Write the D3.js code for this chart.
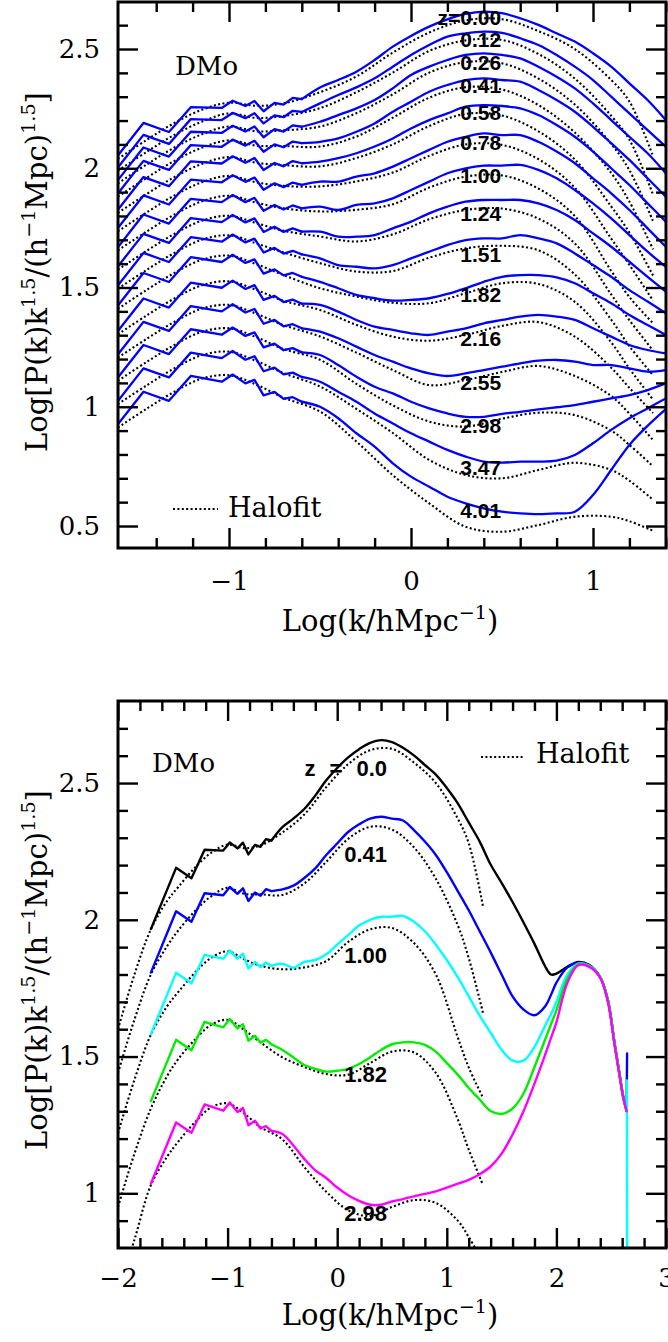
<!DOCTYPE html>
<html><head><meta charset="utf-8">
<script src="https://cdn.jsdelivr.net/npm/d3@7"></script>
<style>
html,body{margin:0;padding:0;background:#fff;}
svg{display:block;}
</style></head><body>
<svg id="c" width="668" height="1342"></svg>
<script>
// ---------------- DATA ----------------
// log k knots (simulation curves); first 13 knots = low-k zig-zag part
const kKnots = [-1.70,-1.47,-1.33,-1.21,-1.04,-0.98,-0.91,-0.86,-0.81,-0.75,-0.70,-0.65,
  -0.6,-0.5,-0.4,-0.3,-0.2,-0.1,0,0.1,0.2,0.3,0.4,0.5,0.6,0.7,0.8,0.9,1.0,1.1,1.2,1.3,1.4];
const pk_z000 = [1.966,2.190,2.152,2.256,2.253,2.283,2.261,2.282,2.239,2.274,2.267,2.295,2.290,2.339,2.370,2.405,2.454,2.510,2.555,2.594,2.624,2.647,2.657,2.650,2.629,2.601,2.566,2.531,2.482,2.426,2.356,2.286,2.202];
const pk_z012 = [1.916,2.140,2.102,2.206,2.202,2.232,2.210,2.231,2.188,2.222,2.214,2.241,2.236,2.272,2.307,2.339,2.377,2.426,2.475,2.517,2.552,2.566,2.573,2.568,2.545,2.517,2.475,2.426,2.370,2.300,2.230,2.160,2.091];
const pk_z026 = [1.863,2.087,2.049,2.153,2.148,2.178,2.154,2.175,2.130,2.164,2.154,2.180,2.174,2.195,2.223,2.251,2.286,2.335,2.391,2.426,2.454,2.475,2.482,2.475,2.461,2.426,2.384,2.335,2.272,2.202,2.132,2.063,1.979];
const pk_z041 = [1.807,2.031,1.993,2.097,2.090,2.120,2.095,2.115,2.069,2.100,2.088,2.112,2.105,2.111,2.125,2.153,2.188,2.237,2.279,2.321,2.349,2.370,2.377,2.370,2.363,2.328,2.286,2.237,2.174,2.105,2.035,1.958,1.881];
const pk_z058 = [1.739,1.963,1.925,2.029,2.020,2.050,2.023,2.043,1.993,2.022,2.008,2.030,2.021,2.028,2.042,2.063,2.091,2.125,2.167,2.202,2.230,2.258,2.265,2.261,2.251,2.223,2.181,2.132,2.070,2.000,1.930,1.853,1.776];
const pk_z078 = [1.662,1.886,1.848,1.952,1.941,1.971,1.943,1.961,1.910,1.937,1.921,1.940,1.930,1.944,1.944,1.965,1.979,2.007,2.042,2.077,2.111,2.132,2.146,2.139,2.139,2.111,2.070,2.021,1.958,1.895,1.825,1.748,1.671];
const pk_z100 = [1.582,1.806,1.768,1.872,1.858,1.888,1.858,1.876,1.822,1.846,1.827,1.844,1.832,1.839,1.825,1.846,1.853,1.874,1.909,1.944,1.979,2.000,2.011,2.011,2.014,1.993,1.958,1.909,1.853,1.790,1.720,1.650,1.587];
const pk_z124 = [1.501,1.725,1.687,1.791,1.774,1.804,1.773,1.790,1.733,1.755,1.733,1.748,1.734,1.734,1.713,1.713,1.720,1.748,1.776,1.811,1.839,1.860,1.867,1.867,1.867,1.853,1.825,1.783,1.727,1.671,1.608,1.545,1.483];
const pk_z151 = [1.421,1.645,1.607,1.711,1.692,1.722,1.689,1.705,1.647,1.666,1.642,1.654,1.639,1.622,1.594,1.587,1.580,1.594,1.622,1.650,1.678,1.699,1.706,1.706,1.720,1.706,1.685,1.643,1.594,1.545,1.489,1.441,1.392];
const pk_z182 = [1.337,1.561,1.523,1.627,1.607,1.637,1.603,1.618,1.558,1.576,1.551,1.561,1.545,1.524,1.497,1.469,1.455,1.445,1.448,1.455,1.473,1.497,1.524,1.545,1.552,1.552,1.543,1.518,1.476,1.434,1.385,1.343,1.301];
const pk_z216 = [1.230,1.454,1.416,1.520,1.499,1.529,1.494,1.510,1.448,1.465,1.439,1.449,1.432,1.427,1.399,1.364,1.336,1.322,1.308,1.301,1.315,1.329,1.350,1.364,1.378,1.385,1.378,1.364,1.329,1.294,1.259,1.238,1.224];
const pk_z255 = [1.132,1.356,1.318,1.422,1.400,1.430,1.395,1.410,1.348,1.364,1.337,1.346,1.329,1.315,1.287,1.252,1.217,1.189,1.161,1.140,1.129,1.140,1.154,1.168,1.182,1.193,1.196,1.189,1.175,1.175,1.161,1.147,1.154];
const pk_z298 = [1.035,1.259,1.221,1.325,1.302,1.332,1.297,1.312,1.249,1.265,1.237,1.246,1.228,1.217,1.175,1.126,1.084,1.056,1.021,0.993,0.972,0.958,0.958,0.970,0.979,0.989,0.998,1.007,1.021,1.035,1.049,1.070,1.098];
const pk_z347 = [0.937,1.161,1.123,1.227,1.204,1.234,1.197,1.212,1.149,1.164,1.136,1.143,1.125,1.105,1.063,1.021,0.972,0.930,0.889,0.854,0.819,0.791,0.770,0.766,0.770,0.770,0.774,0.798,0.847,0.903,0.952,0.993,1.035];
const pk_z401 = [0.839,1.063,1.025,1.129,1.105,1.135,1.098,1.113,1.048,1.062,1.033,1.040,1.021,1.000,0.952,0.889,0.833,0.763,0.707,0.665,0.623,0.595,0.574,0.560,0.553,0.550,0.553,0.560,0.630,0.735,0.840,0.920,0.990];

// Halofit knots (top panel)
const hfKnots = [-1.61,-1.45,-1.3,-1.15,-1.0,-0.85,-0.7,-0.5,-0.3,-0.1,0.1,0.3,0.5,0.7,0.9,1.1,1.2,1.33];
const hf_z000 = [2.040,2.120,2.190,2.245,2.275,2.262,2.272,2.319,2.385,2.485,2.569,2.620,2.625,2.575,2.500,2.370,2.280,2.050];
const hf_z012 = [1.990,2.070,2.140,2.195,2.230,2.211,2.219,2.252,2.319,2.401,2.492,2.536,2.538,2.479,2.376,2.220,2.120,1.889];
const hf_z026 = [1.937,2.017,2.087,2.142,2.175,2.155,2.159,2.175,2.231,2.310,2.401,2.445,2.440,2.376,2.267,2.102,1.992,1.778];
const hf_z041 = [1.881,1.961,2.031,2.086,2.117,2.095,2.093,2.091,2.133,2.212,2.296,2.340,2.330,2.265,2.150,1.980,1.860,1.660];
const hf_z058 = [1.813,1.893,1.963,2.018,2.047,2.023,2.013,2.008,2.043,2.100,2.177,2.228,2.221,2.155,2.037,1.840,1.730,1.550];
const hf_z078 = [1.736,1.816,1.886,1.941,1.968,1.941,1.926,1.924,1.945,1.982,2.052,2.100,2.098,2.038,1.919,1.705,1.595,1.445];
const hf_z100 = [1.656,1.736,1.806,1.861,1.885,1.856,1.832,1.819,1.826,1.849,1.919,1.965,1.970,1.915,1.800,1.570,1.460,1.350];
const hf_z124 = [1.575,1.655,1.725,1.780,1.801,1.770,1.738,1.714,1.693,1.723,1.786,1.825,1.831,1.789,1.685,1.471,1.363,1.236];
const hf_z151 = [1.495,1.575,1.645,1.700,1.719,1.685,1.647,1.602,1.567,1.569,1.625,1.664,1.675,1.656,1.555,1.365,1.254,1.132];
const hf_z182 = [1.411,1.491,1.561,1.616,1.634,1.598,1.552,1.497,1.462,1.436,1.434,1.476,1.518,1.515,1.440,1.270,1.160,1.030];
const hf_z216 = [1.304,1.384,1.454,1.509,1.526,1.490,1.444,1.406,1.343,1.294,1.277,1.301,1.339,1.355,1.294,1.164,1.079,0.974];
const hf_z255 = [1.206,1.286,1.356,1.411,1.427,1.390,1.342,1.295,1.227,1.154,1.091,1.112,1.146,1.171,1.129,1.045,0.971,0.860];
const hf_z298 = [1.109,1.189,1.259,1.314,1.329,1.292,1.242,1.197,1.096,1.006,0.938,0.917,0.950,0.975,0.965,0.900,0.840,0.750];
const hf_z347 = [1.011,1.091,1.161,1.216,1.231,1.192,1.141,1.085,0.991,0.890,0.777,0.714,0.700,0.735,0.765,0.735,0.690,0.610];
const hf_z401 = [0.913,0.993,1.063,1.118,1.132,1.093,1.038,0.980,0.854,0.713,0.595,0.497,0.476,0.504,0.539,0.539,0.520,0.480];

const topLabels = ["z=0.00","0.12","0.26","0.41","0.58","0.78","1.00","1.24","1.51","1.82","2.16","2.55","2.98","3.47","4.01"];
const topLabelLevels = [2.601,2.508,2.412,2.316,2.202,2.077,1.938,1.779,1.607,1.439,1.255,1.070,0.890,0.714,0.534];

// Bottom panel: high-k extension of the z = 0, 0.41, 1.00, 1.82, 2.98 curves
const extKnots = [1.5,1.6,1.7,1.8,1.9,1.95,2.0,2.1,2.2,2.3,2.4,2.47,2.53,2.58,2.61,2.64];
const ext_z000 = [2.135,2.065,1.990,1.912,1.828,1.800,1.803,1.828,1.846,1.835,1.790,1.706,1.550,1.425,1.352,1.304];
const ext_z041 = [1.800,1.720,1.672,1.651,1.685,1.725,1.770,1.826,1.843,1.834,1.790,1.706,1.550,1.425,1.352,1.304];
const ext_z100 = [1.525,1.485,1.485,1.535,1.615,1.655,1.700,1.800,1.840,1.832,1.790,1.706,1.550,1.425,1.352,1.304];
const ext_z182 = [1.290,1.310,1.365,1.462,1.565,1.617,1.669,1.785,1.838,1.830,1.789,1.704,1.548,1.423,1.350,1.302];
const ext_z298 = [1.145,1.215,1.300,1.401,1.510,1.567,1.625,1.770,1.834,1.828,1.788,1.700,1.545,1.420,1.350,1.300];
const spikeX_z041 = [2.645];
const spike_z041 = [1.511];
const spikeX_z100 = [2.643,2.647];
const spike_z100 = [1.413,0.5];

// Bottom panel Halofit
const bhfKnots = [-2.0,-1.85,-1.70,-1.55,-1.45,-1.3,-1.15,-1.0,-0.85,-0.7,-0.5,-0.3,-0.1,0.1,0.3,0.5,0.7,0.9,1.1,1.2,1.33];
const bhf_z000 = [1.600,1.800,1.965,2.070,2.120,2.190,2.245,2.275,2.262,2.272,2.319,2.385,2.485,2.569,2.620,2.625,2.575,2.500,2.370,2.280,2.050];
const bhf_z041 = [1.440,1.635,1.800,1.905,1.961,2.031,2.086,2.117,2.095,2.093,2.091,2.133,2.212,2.296,2.340,2.330,2.265,2.150,1.980,1.860,1.660];
const bhf_z100 = [1.220,1.415,1.580,1.685,1.736,1.806,1.861,1.885,1.856,1.832,1.819,1.826,1.849,1.919,1.965,1.970,1.915,1.800,1.570,1.460,1.350];
const bhf_z182 = [0.950,1.145,1.310,1.430,1.491,1.561,1.616,1.634,1.598,1.552,1.497,1.462,1.436,1.434,1.476,1.518,1.515,1.440,1.270,1.160,1.030];
const bhf_z298 = [0.640,0.830,1.030,1.135,1.189,1.259,1.314,1.329,1.292,1.242,1.197,1.096,1.006,0.938,0.917,0.950,0.975,0.965,0.900,0.840,0.750];

const bottomLabels = ["z = 0.0","0.41","1.00","1.82","2.98"];
const bottomLabelLevels = [2.526,2.211,1.841,1.406,0.897];
const bottomColors = ["#000000","#0000ff","#00ffff","#00ee00","#ff00ff"];

const topXTicks = [-1,0,1];
const topYTicks = [0.5,1,1.5,2,2.5];
const botXTicks = [-2,-1,0,1,2,3];
const botYTicks = [1,1.5,2,2.5];

// ---------------- DRAW ----------------
const svg = d3.select("#c");
const SERIF = "DejaVu Serif";
const LBL = "Liberation Sans";
const ZIG = 13; // number of knots in the zig-zag (linear) part
const zip = (xs, ys) => ys.map((v,i) => [xs[i], v]).filter(d => d[0] !== undefined);
const fmt = d => (d < 0 ? "\u2212" + Math.abs(d) : String(d));

function panel(o) {
  const x = d3.scaleLinear().domain(o.xDom).range([o.L, o.R]);
  const y = d3.scaleLinear().domain(o.yDom).range([o.B, o.T]);
  svg.append("clipPath").attr("id", o.id).append("rect")
    .attr("x", o.L).attr("y", o.T).attr("width", o.R - o.L).attr("height", o.B - o.T);
  const plot = svg.append("g").attr("clip-path", `url(#${o.id})`);
  return {x, y, plot};
}

function rich(textSel, parts, size) {
  let raised = false;
  parts.forEach(p => {
    const ts = textSel.append("tspan").text(p.t);
    if (p.sup) {
      ts.attr("font-size", size * 0.66);
      if (!raised) ts.attr("dy", -size * 0.42);
      raised = true;
    } else {
      if (raised) ts.attr("dy", size * 0.42);
      raised = false;
    }
  });
}

function axes(P, o) {
  const {x, y} = P;
  const style = g => {
    g.select(".domain").remove();
    g.selectAll(".tick line").attr("stroke", "#000").attr("stroke-width", 2.4);
    g.attr("font-family", SERIF).attr("font-size", 26).attr("fill", "#000");
    g.selectAll("text").attr("fill", "#000");
  };
  const add = (tr, ax) => svg.append("g").attr("transform", tr).call(ax).call(style);
  add(`translate(0,${o.B})`, d3.axisBottom(x).tickValues(o.xMaj).tickSizeInner(-20).tickSizeOuter(0).tickPadding(o.xPad).tickFormat(fmt));
  add(`translate(0,${o.B})`, d3.axisBottom(x).tickValues(o.xMin).tickSizeInner(-10).tickSizeOuter(0).tickFormat(""));
  add(`translate(0,${o.T})`, d3.axisTop(x).tickValues(o.xMaj).tickSizeInner(-20).tickSizeOuter(0).tickFormat(""));
  add(`translate(0,${o.T})`, d3.axisTop(x).tickValues(o.xMin).tickSizeInner(-10).tickSizeOuter(0).tickFormat(""));
  add(`translate(${o.L},0)`, d3.axisLeft(y).tickValues(o.yMaj).tickSizeInner(-20).tickSizeOuter(0).tickPadding(18).tickFormat(fmt));
  add(`translate(${o.L},0)`, d3.axisLeft(y).tickValues(o.yMin).tickSizeInner(-10).tickSizeOuter(0).tickFormat(""));
  add(`translate(${o.R},0)`, d3.axisRight(y).tickValues(o.yMaj).tickSizeInner(-20).tickSizeOuter(0).tickFormat(""));
  add(`translate(${o.R},0)`, d3.axisRight(y).tickValues(o.yMin).tickSizeInner(-10).tickSizeOuter(0).tickFormat(""));
  svg.append("rect").attr("x", o.L).attr("y", o.T).attr("width", o.R - o.L).attr("height", o.B - o.T)
    .attr("fill", "none").attr("stroke", "#000").attr("stroke-width", 3);
  const xt = svg.append("text").attr("x", (o.L + o.R) / 2 - 2).attr("y", o.xTitleY)
    .attr("text-anchor", "middle").attr("font-family", SERIF).attr("font-size", 29).attr("fill", "#000");
  rich(xt, [{t:"Log(k/hMpc"},{t:"\u22121",sup:true},{t:")"}], 29);
  const yt = svg.append("text").attr("transform", `translate(47,${o.yTitleY}) rotate(-90)`)
    .attr("text-anchor", "middle").attr("font-family", SERIF).attr("font-size", 29).attr("fill", "#000");
  rich(yt, [{t:"Log[P(k)k"},{t:"1.5",sup:true},{t:"/(h"},{t:"\u22121",sup:true},{t:"Mpc)"},{t:"1.5",sup:true},{t:"]"}], 29);
}

function drawSim(P, pts, color, width, cls) {
  const lin = d3.line().x(d => P.x(d[0])).y(d => P.y(d[1]));
  const smooth = d3.line().x(d => P.x(d[0])).y(d => P.y(d[1])).curve(d3.curveCatmullRom.alpha(0.5));
  const g = P.plot.append("g").attr("class", cls)
    .attr("fill","none").attr("stroke",color).attr("stroke-width",width)
    .attr("stroke-linejoin","round").attr("stroke-linecap","round");
  g.append("path").attr("d", lin(pts.main.slice(0, ZIG)));
  g.append("path").attr("d", smooth(pts.main.slice(ZIG - 1)));
  if (pts.spike) g.append("path").attr("d", lin([pts.main[pts.main.length - 1]].concat(pts.spike)));
}

// ---------- TOP PANEL ----------
const topO = {id:"clipTop", L:118, R:666, T:2, B:548,
  xDom:[-1.6099, 1.4011], yDom:[0.4078, 2.6971],
  xMaj: topXTicks, xMin: d3.range(-7, 8).map(v => v * 0.2).filter(v => Math.abs(v - Math.round(v)) > 1e-6),
  yMaj: topYTicks, yMin: d3.range(5, 27).map(v => v / 10).filter(v => Math.abs(v*2 - Math.round(v*2)) > 1e-6),
  xPad: 24, xTitleY: 631, yTitleY: 272};
const TP = panel(topO);
const topPk = [pk_z000,pk_z012,pk_z026,pk_z041,pk_z058,pk_z078,pk_z100,pk_z124,pk_z151,pk_z182,pk_z216,pk_z255,pk_z298,pk_z347,pk_z401];
const topHf = [hf_z000,hf_z012,hf_z026,hf_z041,hf_z058,hf_z078,hf_z100,hf_z124,hf_z151,hf_z182,hf_z216,hf_z255,hf_z298,hf_z347,hf_z401];
const hfLineT = d3.line().x(d => TP.x(d[0])).y(d => TP.y(d[1])).curve(d3.curveCatmullRom.alpha(0.5));
TP.plot.selectAll("path.hf").data(topHf).join("path").attr("class","hf")
  .attr("d", v => hfLineT(zip(hfKnots, v)))
  .attr("fill","none").attr("stroke","#000").attr("stroke-width",2.1).attr("stroke-dasharray","2,2.4");
topPk.forEach(v => drawSim(TP, {main: zip(kKnots, v)}, "#0000ff", 2.3, "pk"));
axes(TP, topO);
svg.append("g").selectAll("text").data(topLabels).join("text")
  .attr("x", TP.x(0.495)).attr("y", (d,i) => TP.y(topLabelLevels[i]))
  .attr("text-anchor","end").attr("font-family", LBL).attr("font-weight","bold").attr("font-size",21).attr("fill","#000")
  .text(d => d);
svg.append("text").attr("x",175).attr("y",75).attr("font-family",SERIF).attr("font-size",26).attr("fill","#000").text("DMo");
svg.append("line").attr("x1",173).attr("x2",218).attr("y1",509).attr("y2",509)
  .attr("stroke","#000").attr("stroke-width",2.1).attr("stroke-dasharray","2,2.4");
svg.append("text").attr("x",228).attr("y",517).attr("font-family",SERIF).attr("font-size",27).attr("fill","#000").text("Halofit");

// ---------- BOTTOM PANEL ----------
const botO = {id:"clipBot", L:118, R:666, T:701, B:1248,
  xDom:[-2, 3], yDom:[0.8, 2.8],
  xMaj: botXTicks, xMin: d3.range(-9, 15).map(v => v * 0.2).filter(v => Math.abs(v - Math.round(v)) > 1e-6),
  yMaj: botYTicks, yMin: d3.range(9, 28).map(v => v / 10).filter(v => Math.abs(v*2 - Math.round(v*2)) > 1e-6),
  xPad: 21, xTitleY: 1325, yTitleY: 970};
const BP = panel(botO);
const bHf = [bhf_z000,bhf_z041,bhf_z100,bhf_z182,bhf_z298];
const bPk = [
  {main: zip(kKnots, pk_z000).concat(zip(extKnots, ext_z000))},
  {main: zip(kKnots, pk_z041).concat(zip(extKnots, ext_z041)), spike: zip(spikeX_z041, spike_z041)},
  {main: zip(kKnots, pk_z100).concat(zip(extKnots, ext_z100)), spike: zip(spikeX_z100, spike_z100)},
  {main: zip(kKnots, pk_z182).concat(zip(extKnots, ext_z182))},
  {main: zip(kKnots, pk_z298).concat(zip(extKnots, ext_z298))}
];
const hfLineB = d3.line().x(d => BP.x(d[0])).y(d => BP.y(d[1])).curve(d3.curveCatmullRom.alpha(0.5));
BP.plot.selectAll("path.hf").data(bHf).join("path").attr("class","hf")
  .attr("d", v => hfLineB(zip(bhfKnots, v)))
  .attr("fill","none").attr("stroke","#000").attr("stroke-width",2.1).attr("stroke-dasharray","2,2.4");
bPk.forEach((d,i) => drawSim(BP, d, bottomColors[i], 2.4, "pk"));
axes(BP, botO);
svg.append("g").selectAll("text").data(bottomLabels).join("text")
  .attr("x", BP.x(0.455)).attr("y", (d,i) => BP.y(bottomLabelLevels[i]))
  .attr("text-anchor","end").attr("font-family", LBL).attr("font-weight","bold").attr("font-size",22).attr("fill","#000")
  .attr("word-spacing", 8)
  .text(d => d);
svg.append("text").attr("x",152).attr("y",772).attr("font-family",SERIF).attr("font-size",26).attr("fill","#000").text("DMo");
svg.append("line").attr("x1",481).attr("x2",525).attr("y1",757).attr("y2",757)
  .attr("stroke","#000").attr("stroke-width",2.1).attr("stroke-dasharray","2,2.4");
svg.append("text").attr("x",536).attr("y",763).attr("font-family",SERIF).attr("font-size",27).attr("fill","#000").text("Halofit");
</script>
</body></html>
